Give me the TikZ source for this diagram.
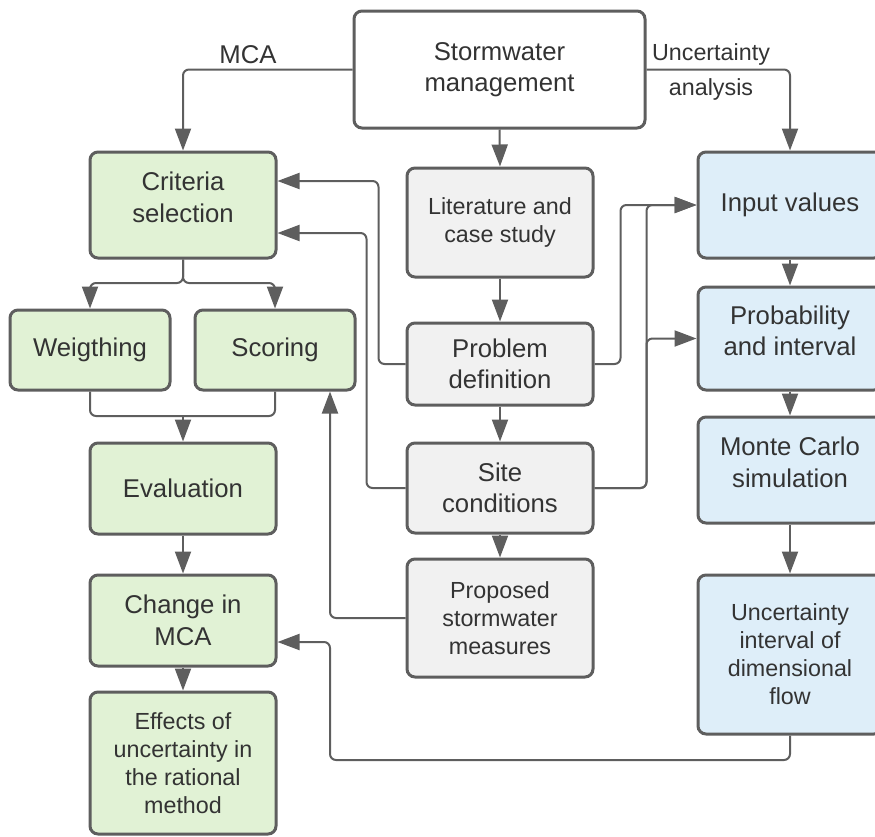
\documentclass[tikz,border=0pt]{standalone}
\usepackage{fontspec}
\setmainfont{Liberation Sans}
\usetikzlibrary{arrows.meta,calc}
\definecolor{edgec}{HTML}{5E5E5E}
\definecolor{txtc}{HTML}{333333}
\definecolor{greenf}{HTML}{E1F2D5}
\definecolor{grayf}{HTML}{F1F1F1}
\definecolor{bluef}{HTML}{DEEEF9}
\tikzset{
  box/.style={draw=edgec, line width=3pt, rounded corners=8pt, align=center, text=txtc,
    font=\fontsize{25.7}{31.5}\selectfont, inner sep=0pt},
  smallbox/.style={box, font=\fontsize{23.3}{28}\selectfont},
  gbox/.style={fill=greenf},
  ybox/.style={fill=grayf},
  bbox/.style={fill=bluef},
  wbox/.style={fill=white},
  liftup/.style={text depth=16pt},
  conn/.style={draw=edgec, line width=2pt, rounded corners=6pt},
  arr/.style={conn, -{Triangle[length=22pt,width=16pt]}},
  lbl/.style={text=txtc, align=center, inner sep=0pt}
}
\begin{document}
\begin{tikzpicture}[x=1pt,y=-1pt]
\useasboundingbox (0,0) rectangle (875,836);
\clip (0,0) rectangle (875,836);
% top
\node[box,wbox,minimum width=291pt,minimum height=117pt] (storm) at (499.5,69.5) {Stormwater\\management};
% middle column
\node[smallbox,ybox,minimum width=186pt,minimum height=109pt] (lit) at (500,222.5) {Literature and\\case study};
\node[box,ybox,minimum width=186pt,minimum height=82pt] (prob) at (500,364) {Problem\\definition};
\node[box,ybox,minimum width=186pt,minimum height=90pt] (site) at (500,488) {Site\\conditions};
\node[smallbox,ybox,minimum width=186pt,minimum height=118pt] (prop) at (500,618) {Proposed\\stormwater\\measures};
% left column
\node[box,gbox,liftup,minimum width=186pt,minimum height=106pt] (crit) at (183,205) {Criteria\\selection};
\node[box,gbox,minimum width=160pt,minimum height=80pt] (weig) at (90,350) {Weigthing};
\node[box,gbox,minimum width=160pt,minimum height=80pt] (scor) at (275,350) {Scoring};
\node[box,gbox,minimum width=186pt,minimum height=91pt] (eval) at (183,488.5) {Evaluation};
\node[box,gbox,minimum width=186pt,minimum height=91pt] (chg) at (183,620.5) {Change in\\MCA};
\node[smallbox,gbox,minimum width=186pt,minimum height=142pt] (eff) at (183,763) {Effects of\\uncertainty in\\the rational\\method};
% right column
\node[box,bbox,minimum width=184pt,minimum height=106pt] (inp) at (790,205) {Input values};
\node[box,bbox,liftup,minimum width=184pt,minimum height=103pt] (proba) at (790,338.5) {Probability\\and interval};
\node[box,bbox,liftup,minimum width=184pt,minimum height=106pt] (monte) at (790,470) {Monte Carlo\\simulation};
\node[smallbox,bbox,minimum width=184pt,minimum height=159pt] (unc) at (790,654.5) {Uncertainty\\interval of\\dimensional\\flow};
% labels
\node[lbl,font=\fontsize{25.7}{31}\selectfont] (mcalbl) at (248,55) {MCA};
\node[lbl,font=\fontsize{23.3}{35}\selectfont] (ualbl) at (711,71.5) {Uncertainty\\analysis};
% coordinates
\coordinate (split) at (183,283);
\coordinate (merge) at (183,416);
\coordinate (loopA) at (330,760);
% connectors
\draw[arr] (storm.west) -| (crit.north);
\draw[arr] (storm.east) -| (inp.north);
\draw[arr] (storm.south) -- (lit.north);
\draw[arr] (lit.south) -- (prob.north);
\draw[arr] (prob.south) -- (site.north);
\draw[arr] (site.south) -- (prop.north);
\draw[arr] (crit.south) -- (split) -| (weig.north);
\draw[arr] (crit.south) -- (split) -| (scor.north);
\draw[conn] (weig.south) |- (merge);
\draw[conn] (scor.south) |- (merge);
\draw[arr] (merge) -- (eval.north);
\draw[arr] (eval.south) -- (chg.north);
\draw[arr] (chg.south) -- (eff.north);
\draw[arr] (prob.west) -- ++(-27,0) |- ($(crit.east)+(0,-24)$);
\draw[arr] (site.west) -- ++(-39,0) |- ($(crit.east)+(0,28)$);
\draw[arr] (prop.west) -| ($(scor.south)+(55,0)$);
\draw[arr] (prob.east) -- ++(26,0) |- (inp.west);
\draw[arr] (site.east) -- ++(52,0) |- (inp.west);
\draw[arr] (site.east) -- ++(52,0) |- (proba.west);
\draw[arr] (inp.south) -- (proba.north);
\draw[arr] (proba.south) -- (monte.north);
\draw[arr] (monte.south) -- (unc.north);
\draw[arr] (unc.south) |- (loopA) |- ($(chg.east)+(0,21.5)$);
\end{tikzpicture}
\end{document}
